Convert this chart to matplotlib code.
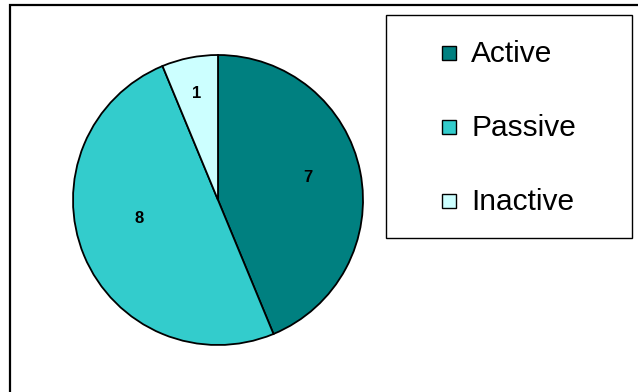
import matplotlib
matplotlib.use("Agg")
import matplotlib.pyplot as plt
from matplotlib.patches import Rectangle
import numpy as np

categories = ["Active", "Passive", "Inactive"]
counts = [7, 8, 1]
colors = ["#008080", "#33CCCC", "#CCFFFF"]

W, H = 638, 392
fig = plt.figure(figsize=(W / 100, H / 100), dpi=100)
plt.rcParams["font.family"] = ["Liberation Sans", "DejaVu Sans"]


def px(x, y):
    """Convert top-left pixel coordinates to figure fraction."""
    return x / W, 1 - y / H


# Outer chart frame (extends past the right and bottom edges)
fig.patches.append(Rectangle(px(10, 400), (W + 20) / W, 395 / H,
                             transform=fig.transFigure, fill=False,
                             edgecolor="black", linewidth=1.6))

# Pie
ax = fig.add_axes([0, 0, 1, 1])
ax.set_xlim(0, W)
ax.set_ylim(0, H)
ax.set_aspect("equal")
ax.axis("off")

cx, cy, r = 218, H - 200, 145
total = sum(counts)
wedges, texts, autotexts = ax.pie(
    counts, colors=colors, startangle=90, counterclock=False,
    center=(cx, cy), radius=r, frame=True,
    wedgeprops=dict(edgecolor="black", linewidth=1.3),
    autopct=lambda p: f"{round(p * total / 100)}",
    textprops=dict(fontsize=12, fontweight="bold", color="black"),
)
ax.set_xlim(0, W)
ax.set_ylim(0, H)
ax.axis("off")

label_dist = [0.64, 0.56, 0.75]
label_shift = [2.5, -9, 0]
for w, t, d, s in zip(wedges, autotexts, label_dist, label_shift):
    mid = np.deg2rad((w.theta1 + w.theta2) / 2 + s)
    t.set_position((cx + r * d * np.cos(mid), cy + r * d * np.sin(mid)))
    t.set_ha("center")
    t.set_va("center")

# Legend box
fig.patches.append(Rectangle(px(385.5, 238), 246 / W, 223 / H,
                             transform=fig.transFigure, facecolor="white",
                             edgecolor="black", linewidth=1.0))
row_y = [53, 127, 201]
for name, col, y in zip(categories, colors, row_y):
    fig.patches.append(Rectangle(px(442, y + 7), 14 / W, 14 / H,
                                 transform=fig.transFigure, facecolor=col,
                                 edgecolor="black", linewidth=1.0))
    fx, fy = px(471, y + 1)
    fig.text(fx, fy, name, fontsize=21.5, ha="left", va="center")

fig.savefig("out.png", dpi=100)
